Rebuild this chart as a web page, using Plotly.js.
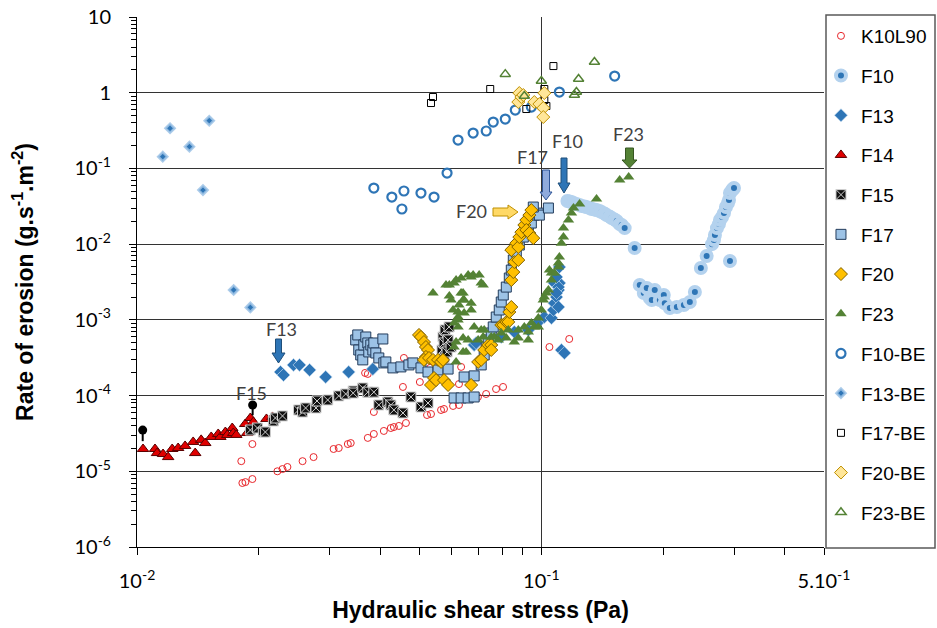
<!DOCTYPE html>
<html><head><meta charset="utf-8">
<script src="https://cdn.plot.ly/plotly-3.0.1.min.js"></script>
<style>html,body{margin:0;padding:0;background:#fff;}#chart{width:937px;height:628px;}</style>
</head><body><div id="chart"></div>
<script>
// ---------------- DATA ----------------
const seriesNames = ['K10L90','F10','F13','F14','F15','F17','F20','F23','F10-BE','F13-BE','F17-BE','F20-BE','F23-BE'];

const k10l90X = [0.01811,0.01822,0.01854,0.01929,0.01929,0.02224,0.0229,0.02355,0.02567,0.02733,0.03063,0.03154,0.03322,0.03377,0.03665,0.03722,0.03722,0.03852,0.03852,0.04078,0.04244,0.04318,0.04443,0.04546,0.04572,0.04625,0.05006,0.05215,0.05309,0.05334,0.05648,0.05744,0.06048,0.06255,0.06255,0.06332,0.06969,0.073,0.07726,0.0804,0.1047,0.1172];
const k10l90Y = [1.36e-5,7.0e-6,7.2e-6,7.9e-6,2.29e-5,1.0e-5,1.07e-5,1.14e-5,1.36e-5,1.54e-5,1.97e-5,2.03e-5,2.29e-5,2.36e-5,1.99e-4,2.76e-5,1.93e-4,3.11e-5,6.07e-5,3.41e-5,3.73e-5,3.84e-5,3.97e-5,1.30e-4,3.14e-4,4.34e-5,1.51e-4,5.54e-5,2.32e-4,5.71e-5,6.45e-5,6.65e-5,7.29e-5,7.51e-5,1.42e-4,2.39e-4,9.58e-5,1.05e-4,1.22e-4,1.30e-4,4.38e-4,5.59e-4];

const f10X = [0.116,0.1173,0.1187,0.1201,0.1221,0.1243,0.1257,0.1279,0.1293,0.1316,0.1331,0.1353,0.1369,0.1393,0.1409,0.1433,0.145,0.1475,0.1492,0.1518,0.1536,0.1562,0.158,0.1607,0.1701,0.1751,0.1792,0.1822,0.1854,0.1875,0.1907,0.1963,0.2008,0.2019,0.2078,0.2163,0.2251,0.2329,0.2397,0.248,0.2563,0.2643,0.2672,0.2687,0.2718,0.2749,0.2765,0.2798,0.2829,0.2861,0.2894,0.2911,0.2927,0.2963,0.2979,0.2995,0.2927];
const f10Y = [3.71e-2,3.66e-2,3.60e-2,3.49e-2,3.39e-2,3.28e-2,3.18e-2,3.13e-2,3.09e-2,3.0e-2,2.91e-2,2.87e-2,2.82e-2,2.73e-2,2.65e-2,2.53e-2,2.42e-2,2.31e-2,2.21e-2,2.11e-2,2.02e-2,1.84e-2,1.79e-2,1.63e-2,8.88e-3,2.88e-3,2.26e-3,2.63e-3,1.94e-3,1.83e-3,2.48e-3,1.83e-3,2.13e-3,1.66e-3,1.43e-3,1.48e-3,1.57e-3,1.72e-3,2.33e-3,4.84e-3,6.96e-3,1.0e-2,1.13e-2,1.32e-2,1.63e-2,1.84e-2,2.08e-2,2.28e-2,2.57e-2,3.09e-2,3.49e-2,3.82e-2,4.73e-2,5.18e-2,5.35e-2,5.51e-2,5.98e-3];

const f13X = [0.02264,0.02303,0.02438,0.02523,0.02672,0.02928,0.03338,0.0383,0.0682,0.06898,0.07516,0.07958,0.08572,0.09284,0.0983,0.1017,0.1059,0.1071,0.1077,0.109,0.1102,0.1108,0.1077,0.1102,0.109,0.1102,0.109,0.1108,0.1121,0.114];
const f13Y = [2.05e-4,1.87e-4,2.54e-4,2.54e-4,2.18e-4,1.76e-4,2.05e-4,2.24e-4,4.66e-4,4.95e-4,4.66e-4,5.94e-4,6.92e-4,7.36e-4,9.38e-4,1.09e-3,1.06e-3,1.35e-3,1.66e-3,2.0e-3,2.48e-3,3.06e-3,3.06e-3,2.71e-3,2.26e-3,1.48e-3,3.68e-3,4.98e-3,4.0e-4,3.65e-4];

const f14X = [0.01035,0.01108,0.01121,0.0116,0.01194,0.01222,0.01264,0.01315,0.01377,0.01393,0.01441,0.01475,0.01526,0.01588,0.01607,0.01654,0.01672,0.0172,0.0173,0.0176,0.01852,0.01873,0.01907,0.0194,0.0209,0.02163];
const f14Y = [1.97e-5,1.97e-5,1.74e-5,1.69e-5,1.54e-5,1.97e-5,2.03e-5,2.16e-5,2.44e-5,1.74e-5,2.6e-5,2.36e-5,2.84e-5,3.11e-5,2.84e-5,3.3e-5,3.02e-5,3.73e-5,3.2e-5,3.02e-5,4.21e-5,3.2e-5,5.06e-5,4.48e-5,4.91e-5,5.22e-5];

const f15X = [0.01907,0.01985,0.02053,0.02077,0.02174,0.02199,0.0229,0.02508,0.02567,0.02612,0.02771,0.02787,0.02962,0.03154,0.03282,0.03425,0.03425,0.03617,0.03722,0.03852,0.03963,0.04172,0.04244,0.04318,0.04547,0.04758,0.05038,0.05244,0.0568,0.05712,0.05745,0.05745,0.05778,0.05845,0.05879,0.05913,0.0598];
const f15Y = [3.51e-5,3.73e-5,3.3e-5,3.3e-5,4.62e-5,5.06e-5,5.38e-5,6.45e-5,6.07e-5,6.86e-5,6.86e-5,8.48e-5,8.75e-5,9.9e-5,1.05e-4,1.15e-4,1.08e-4,1.26e-4,1.11e-4,1.11e-4,7.51e-5,8.23e-5,7.51e-5,6.45e-5,5.89e-5,9.58e-5,7.07e-5,7.98e-5,4.0e-4,5.94e-4,4.95e-4,3.14e-4,7.36e-4,3.77e-4,5.43e-4,8.06e-4,4.38e-4];

const f17X = [0.03474,0.03515,0.03535,0.03575,0.03617,0.03638,0.0368,0.03722,0.03743,0.03786,0.0383,0.03852,0.03896,0.03963,0.04055,0.04078,0.04125,0.04294,0.04494,0.04704,0.04813,0.05038,0.05244,0.05553,0.05879,0.06084,0.06332,0.06442,0.06591,0.0682,0.0682,0.07099,0.07222,0.07305,0.07389,0.07516,0.07603,0.07734,0.07868,0.07958,0.0805,0.0819,0.08331,0.08427,0.08523,0.0867,0.0882,0.09023,0.09284,0.09445,0.09607,0.0983,0.09886,0.09552,0.1041];
const f17Y = [5.43e-4,6.32e-4,4.0e-4,3.44e-4,2.96e-4,4.66e-4,5.94e-4,4.95e-4,3.77e-4,4.66e-4,4.0e-4,4.95e-4,3.65e-4,3.14e-4,5.59e-4,2.70e-4,2.78e-4,2.32e-4,2.39e-4,2.54e-4,2.70e-4,2.32e-4,2.05e-4,2.18e-4,2.24e-4,9.3e-5,9.3e-5,1.76e-4,9.3e-5,9.58e-5,1.82e-4,2.54e-4,3.44e-4,4.38e-4,5.43e-4,6.71e-4,8.06e-4,1.09e-3,1.35e-3,1.72e-3,2.13e-3,2.71e-3,3.57e-3,4.55e-3,6.17e-3,7.86e-3,9.73e-3,1.24e-2,1.54e-2,1.90e-2,2.42e-2,2.57e-2,2.42e-2,3.09e-2,3.0e-2];

const f20X = [0.04982,0.05038,0.05125,0.05183,0.05244,0.05183,0.05125,0.05274,0.05395,0.05553,0.05648,0.05712,0.05334,0.05426,0.0549,0.05745,0.05879,0.06704,0.06978,0.07099,0.07222,0.07389,0.07516,0.07516,0.07958,0.0805,0.0819,0.08284,0.08331,0.08427,0.08427,0.08523,0.08572,0.08427,0.0867,0.0877,0.0877,0.0882,0.08923,0.09075,0.09179,0.09179,0.09339,0.09339,0.09445,0.09552];
const f20Y = [6.32e-4,5.94e-4,5.10e-4,4.38e-4,4.0e-4,3.24e-4,2.96e-4,3.14e-4,2.96e-4,2.96e-4,2.78e-4,2.96e-4,1.38e-4,1.71e-4,1.60e-4,1.60e-4,1.38e-4,1.38e-4,2.78e-4,2.96e-4,4.0e-4,4.66e-4,4.66e-4,4.0e-4,8.56e-4,8.56e-4,9.38e-4,9.38e-4,1.27e-3,1.48e-3,3.35e-3,4.28e-3,5.80e-3,8.36e-3,1.03e-2,9.16e-3,6.17e-3,1.24e-2,1.44e-2,1.79e-2,2.08e-2,1.54e-2,2.42e-2,1.40e-2,2.82e-2,1.20e-2];

const f23X = [0.05395,0.0581,0.05921,0.05921,0.0598,0.06048,0.06084,0.06153,0.06255,0.06332,0.06404,0.06442,0.06591,0.06704,0.06781,0.07017,0.07099,0.07179,0.06223,0.06223,0.06332,0.06404,0.06704,0.06704,0.06442,0.06223,0.06084,0.06223,0.06153,0.06084,0.06153,0.06404,0.06404,0.06515,0.06591,0.0682,0.06978,0.07099,0.07179,0.07222,0.07516,0.07645,0.07822,0.07958,0.0819,0.08284,0.08572,0.0877,0.0877,0.09075,0.09284,0.09284,0.09445,0.09607,0.0983,0.0983,0.1,0.1011,0.1017,0.1029,0.1041,0.1047,0.1059,0.1059,0.1077,0.1102,0.1102,0.1108,0.1121,0.1134,0.1134,0.1167,0.1187,0.1201,0.1243,0.1369,0.1562,0.1644];
const f23Y = [2.26e-3,2.88e-3,2.88e-3,2.06e-3,1.83e-3,1.35e-3,3.06e-3,3.35e-3,1.57e-3,3.57e-3,2.26e-3,1.83e-3,3.91e-3,3.68e-3,3.91e-3,3.91e-3,3.06e-3,2.88e-3,1.27e-3,1.09e-3,2.26e-3,1.83e-3,1.66e-3,1.35e-3,1.23e-3,9.95e-4,9.1e-4,8.06e-4,5.10e-4,4.38e-4,2.78e-4,5.77e-4,3.77e-4,3.77e-4,5.43e-4,8.06e-4,5.43e-4,7.36e-4,5.94e-4,7.36e-4,5.94e-4,5.94e-4,5.43e-4,6.71e-4,5.77e-4,7.36e-4,5.10e-4,5.77e-4,7.36e-4,8.06e-4,5.43e-4,6.92e-4,9.1e-4,8.06e-4,1.06e-3,8.06e-4,1.35e-3,1.83e-3,2.0e-3,2.26e-3,2.48e-3,4.55e-3,3.35e-3,4.15e-3,4.15e-3,5.63e-3,4.98e-3,6.75e-3,1.03e-2,1.24e-2,1.63e-2,2.08e-2,2.57e-2,3.0e-2,3.39e-2,3.95e-2,7.03e-2,7.70e-2];

const f10beX = [0.03852,0.04268,0.0452,0.04572,0.05038,0.05427,0.05845,0.06223,0.06781,0.07305,0.07603,0.08142,0.0862,0.09445,0.1108,0.1518];
const f10beY = [5.51e-2,4.19e-2,2.91e-2,5.03e-2,4.73e-2,4.19e-2,8.69e-2,0.237,0.293,0.312,0.41,0.449,0.59,0.647,1.02,1.66];

const f13beX = [0.01158,0.01207,0.01348,0.01509,0.01456,0.01734,0.01907];
const f13beY = [0.143,0.339,0.194,0.427,0.0518,2.48e-3,1.46e-3];

const f17beX = [0.05334,0.05395,0.07473,0.09179,0.1017,0.1017,0.1029,0.1071];
const f17beY = [0.731,0.877,1.12,0.609,1.12,0.80,0.667,2.25];

const f20beX = [0.0877,0.0882,0.08923,0.09023,0.09607,0.09886,0.1011,0.1017,0.1011];
const f20beY = [0.753,0.99,0.877,0.932,0.753,0.709,0.628,0.99,0.477];

const f23beX = [0.08142,0.09075,0.1,0.1207,0.1221,0.1236,0.1353];
const f23beY = [1.76,0.904,1.43,0.932,1.02,1.52,2.55];

// F15 / F14 start markers (pins)
const pinX = [0.01033,0.01932];
const pinTop = [3.5e-5,7.5e-5];
const pinBottom = [2.5e-5,5.5e-5];

// Axis ticks
const xTickVals = [0.01,0.1,0.5];
const xTickText = ['10<sup>-2</sup>','10<sup>-1</sup>','5.10<sup>-1</sup>'];
const xMinorVals = [0.02,0.03,0.04,0.05,0.06,0.07,0.08,0.09,0.2,0.3,0.4];
const yTickVals = [1e-6,1e-5,1e-4,1e-3,1e-2,1e-1,1,10];
const yTickText = ['10<sup>-6</sup>','10<sup>-5</sup>','10<sup>-4</sup>','10<sup>-3</sup>','10<sup>-2</sup>','10<sup>-1</sup>','1','10'];
const yMinorMult = [2,3,4,5,6,7,8,9];
const yMinorDecades = [1e-6,1e-5,1e-4,1e-3,1e-2,1e-1,1];

// ---------------- STYLING ----------------
const yMinorVals = yMinorDecades.flatMap(d => yMinorMult.map(m => +(m*d).toPrecision(3)));
const PL=137, PR=824, PT=17, PB=547;
const px = v => (v-PL)/(PR-PL);
const py = v => (PB-v)/(PB-PT);
function downArrow(cx, top, neck, tip, sh, hh){
  return `M ${px(cx-sh)},${py(top)} L ${px(cx+sh)},${py(top)} L ${px(cx+sh)},${py(neck)} L ${px(cx+hh)},${py(neck)} L ${px(cx)},${py(tip)} L ${px(cx-hh)},${py(neck)} L ${px(cx-sh)},${py(neck)} Z`;
}
function rightArrow(cy, left, neck, tip, sh, hh){
  return `M ${px(left)},${py(cy-sh)} L ${px(neck)},${py(cy-sh)} L ${px(neck)},${py(cy-hh)} L ${px(tip)},${py(cy)} L ${px(neck)},${py(cy+hh)} L ${px(neck)},${py(cy+sh)} L ${px(left)},${py(cy+sh)} Z`;
}

function tr(name, x, y, marker){
  return {type:'scatter', mode:'markers', name, x, y, marker, legendgroup:name, hoverinfo:'x+y+name'};
}
const blue='#2E75B6';
const traces = [
  tr(seriesNames[0], k10l90X, k10l90Y, {symbol:'circle-open', color:'#E8262B', size:7, line:{width:1}}),
  tr(seriesNames[1], f10X, f10Y, {symbol:'circle', color:blue, size:10, line:{color:'#B4D2EE', width:4}}),
  tr(seriesNames[2], f13X, f13Y, {symbol:'diamond', color:blue, size:10, line:{color:'rgba(189,215,238,0.7)', width:1}}),
  tr(seriesNames[3], f14X, f14Y, {symbol:'triangle-up', color:'#E00000', size:10, line:{color:'#5A0000', width:1}}),
  tr(seriesNames[4], f15X, f15Y, {symbol:'square-x', color:'#111111', size:10, line:{color:'#D0D0D0', width:1}}),
  tr(seriesNames[5], f17X, f17Y, {symbol:'square', color:'#9DC3E6', size:10, line:{color:'#233C5C', width:1}}),
  tr(seriesNames[6], f20X, f20Y, {symbol:'diamond', color:'#FFC000', size:10, line:{color:'#7F6000', width:1}}),
  tr(seriesNames[7], f23X, f23Y, {symbol:'triangle-up', color:'#548235', size:10, line:{width:0}}),
  tr(seriesNames[8], f10beX, f10beY, {symbol:'circle-open', color:blue, size:9, line:{width:2.2}}),
  tr(seriesNames[9], f13beX, f13beY, {symbol:'diamond', color:blue, size:7, line:{color:'rgba(157,195,230,0.85)', width:2.5}}),
  tr(seriesNames[10], f17beX, f17beY, {symbol:'square-open', color:'#000', size:7, line:{width:1}}),
  tr(seriesNames[11], f20beX, f20beY, {symbol:'diamond', color:'#FFE699', size:10, line:{color:'#BF9000', width:1}}),
  tr(seriesNames[12], f23beX, f23beY, {symbol:'triangle-up-open', color:'#548235', size:9, line:{width:1.5}}),
  {type:'scatter', mode:'lines', x:[pinX[0],pinX[0],null,pinX[1],pinX[1]], y:[pinTop[0],pinBottom[0],null,pinTop[1],pinBottom[1]], line:{color:'#000', width:2}, showlegend:false, hoverinfo:'skip'},
  {type:'scatter', mode:'markers', x:pinX, y:pinTop, marker:{symbol:'circle', color:'#000', size:9}, showlegend:false, hoverinfo:'skip'}
];

const annFont = {family:'Lato, Open Sans, sans-serif', size:18, color:'#404040'};
function lab(text, xp, yp, extra){ return Object.assign({text, xref:'paper', yref:'paper', x:px(xp), y:py(yp), xanchor:'center', yanchor:'middle', showarrow:false, font:annFont}, extra||{}); }

const layout = {
  width:937, height:628, autosize:false,
  paper_bgcolor:'#fff', plot_bgcolor:'#fff',
  margin:{l:PL, r:937-PR, t:PT, b:628-PB, pad:0, autoexpand:false},
  showlegend:true,
  legend:{x:0.9956, xanchor:'left', y:1, yanchor:'top', traceorder:'grouped', tracegroupgap:12, maxheight:620,
          font:{family:'Liberation Sans, Arial, sans-serif', size:19, color:'#000'}, bgcolor:'rgba(0,0,0,0)', borderwidth:0, itemsizing:'trace'},
  xaxis:{type:'log', range:[-2, Math.log10(0.5)], tickmode:'array', tickvals:xTickVals, ticktext:xTickText,
         ticks:'outside', ticklen:7, tickcolor:'#000', tickwidth:1, showline:true, linecolor:'#000', linewidth:1,
         showgrid:true, gridcolor:'#333', gridwidth:1, zeroline:false, ticklabelstandoff:9,
         tickfont:{family:'Lato, Open Sans, sans-serif', size:20, color:'#000'},
         minor:{tickmode:'array', tickvals:xMinorVals, ticks:'outside', ticklen:7, tickcolor:'#000', showgrid:false},
         title:{text:'<b>Hydraulic shear stress (Pa)</b>', font:{family:'Liberation Sans, Arial, sans-serif', size:23, color:'#000'}, standoff:10}},
  yaxis:{type:'log', range:[-6, 1], tickmode:'array', tickvals:yTickVals, ticktext:yTickText,
         ticks:'outside', ticklen:7, tickcolor:'#000', tickwidth:1, showline:true, linecolor:'#000', linewidth:1,
         showgrid:true, gridcolor:'#333', gridwidth:1, zeroline:false, ticklabelstandoff:14,
         tickfont:{family:'Lato, Open Sans, sans-serif', size:20, color:'#000'},
         minor:{tickmode:'array', tickvals:yMinorVals, ticks:'outside', ticklen:5, tickcolor:'#000', showgrid:false},
         title:{text:'<b>Rate of erosion (g.s<sup>-1</sup>.m<sup>-2</sup>)</b>', font:{family:'Liberation Sans, Arial, sans-serif', size:23, color:'#000'}, standoff:34}},
  shapes:[
    {type:'rect', xref:'paper', yref:'paper', x0:px(826), x1:px(935), y0:py(548), y1:py(15), line:{color:'#595959', width:1.5}, fillcolor:'rgba(0,0,0,0)'},
    {type:'rect', xref:'paper', yref:'paper', layer:'between', x0:px(227), x1:px(276), y0:py(399), y1:py(392), line:{width:0}, fillcolor:'#fff'},
    {type:'path', xref:'paper', yref:'paper', path:downArrow(278.5,339,353,363,3,6.5), fillcolor:'#2E75B6', line:{color:'#1F4E79', width:1}},
    {type:'path', xref:'paper', yref:'paper', path:downArrow(546,170,192,200,3.5,6), fillcolor:'#8FAADC', line:{color:'#2F5597', width:1}},
    {type:'path', xref:'paper', yref:'paper', path:downArrow(564,158,183,193,3,6), fillcolor:'#2E75B6', line:{color:'#1F4E79', width:1}},
    {type:'path', xref:'paper', yref:'paper', path:downArrow(629.5,148,160,168,4,7.5), fillcolor:'#548235', line:{color:'#375623', width:1}},
    {type:'path', xref:'paper', yref:'paper', path:rightArrow(212,493,508,518,4,7), fillcolor:'#FFD966', line:{color:'#BF9000', width:1}}
  ],
  annotations:[
    lab('F13', 281, 329),
    lab('F17', 532, 157),
    lab('F10', 567, 141),
    lab('F20', 471, 211),
    lab('F23', 628, 134),
    lab('F15', 251, 393)
  ]
};

Plotly.newPlot('chart', traces, layout, {displayModeBar:false, staticPlot:true});
</script>
</body></html>
